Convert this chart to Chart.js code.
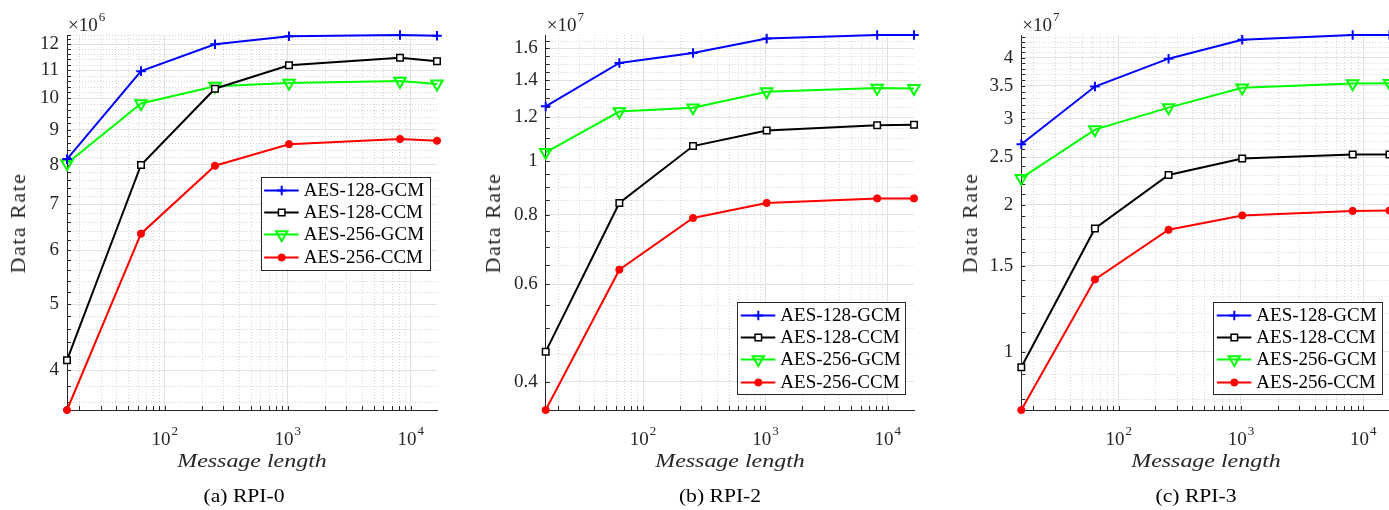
<!DOCTYPE html>
<html><head><meta charset="utf-8">
<script src="https://cdn.jsdelivr.net/npm/chart.js@4.4.1/dist/chart.umd.min.js"></script>
<style>
html,body{margin:0;padding:0;background:#fff;overflow:hidden;width:1389px;height:510px;position:relative;}
.panel{position:absolute;top:0;height:510px;}
canvas{display:block;}
.txt{position:absolute;white-space:nowrap;font-family:'Liberation Serif','Times New Roman',serif;color:#262626;line-height:1;}
.xt{font-style:italic;font-size:19px;transform:translateX(-50%) scaleX(1.26);}
.yt{font-size:22px;letter-spacing:1.5px;transform:translate(-50%,-50%) rotate(-90deg);}
.cap{font-size:18px;color:#000;transform:translateX(-50%) scaleX(1.2);}
</style></head>
<body>
<div class="panel" style="left:0px;width:460px"><canvas id="ca" width="460" height="510" style="width:460px;height:510px"></canvas></div>
<div class="panel" style="left:460px;width:470px"><canvas id="cb" width="470" height="510" style="width:470px;height:510px"></canvas></div>
<div class="panel" style="left:930px;width:470px"><canvas id="cc" width="470" height="510" style="width:470px;height:510px"></canvas></div>

<div class="txt yt" style="left:18px;top:222.5px">Data Rate</div>
<div class="txt yt" style="left:492.5px;top:222.5px">Data Rate</div>
<div class="txt yt" style="left:969.5px;top:222.5px">Data Rate</div>
<div class="txt xt" style="left:252px;top:451px">Message length</div>
<div class="txt xt" style="left:730px;top:451px">Message length</div>
<div class="txt xt" style="left:1206px;top:451px">Message length</div>
<div class="txt cap" style="left:244px;top:487px">(a) RPI-0</div>
<div class="txt cap" style="left:720px;top:487px">(b) RPI-2</div>
<div class="txt cap" style="left:1196px;top:487px">(c) RPI-3</div>

<script>
// ---------------- data ----------------
const messageLengths = [16, 64, 256, 1024, 8192, 16384];
const seriesNames = ['AES-128-GCM', 'AES-128-CCM', 'AES-256-GCM', 'AES-256-CCM'];

// RPI-0 (x10^6)
const rpi0Exponent = 6;
const rpi0Gcm128 = [8.15, 10.96, 12.0, 12.33, 12.38, 12.35];
const rpi0Ccm128 = [4.14, 7.99, 10.33, 11.18, 11.47, 11.33];
const rpi0Gcm256 = [8.03, 9.83, 10.42, 10.53, 10.6, 10.5];
const rpi0Ccm256 = [3.5, 6.34, 7.97, 8.57, 8.72, 8.67];
const rpi0YTicks = [4, 5, 6, 7, 8, 9, 10, 11, 12];

// RPI-2 (x10^7)
const rpi2Exponent = 7;
const rpi2Gcm128 = [1.256, 1.504, 1.567, 1.664, 1.689, 1.689];
const rpi2Ccm128 = [0.4536, 0.841, 1.065, 1.136, 1.161, 1.164];
const rpi2Gcm256 = [1.038, 1.229, 1.249, 1.335, 1.355, 1.353];
const rpi2Ccm256 = [0.356, 0.6375, 0.790, 0.841, 0.857, 0.857];
const rpi2YTicks = [0.4, 0.6, 0.8, 1, 1.2, 1.4, 1.6];

// RPI-3 (x10^7)
const rpi3Exponent = 7;
const rpi3Gcm128 = [2.66, 3.49, 3.98, 4.35, 4.45, 4.45];
const rpi3Ccm128 = [0.93, 1.788, 2.30, 2.486, 2.533, 2.533];
const rpi3Gcm256 = [2.266, 2.85, 3.16, 3.47, 3.54, 3.545];
const rpi3Ccm256 = [0.76, 1.406, 1.777, 1.901, 1.942, 1.945];
const rpi3YTicks = [1, 1.5, 2, 2.5, 3, 3.5, 4];

const xMajorTicks = [100, 1000, 10000];
const xMajorExponents = ['2', '3', '4'];

// ---------------- styling ----------------
const FONT = "'Liberation Serif','Times New Roman',serif";
const AXIS = '#262626';
const MAJOR_GRID = '#e1e1e1';
const MINOR_GRID = '#d4d4d4';

const seriesStyles = [
  {color: '#0000ff', pointStyle: 'cross', radius: 4.8, bg: '#0000ff', bw: 2, rot: 0},
  {color: '#000000', pointStyle: 'rect', radius: 4.6, bg: '#ffffff', bw: 1.5, rot: 0},
  {color: '#00ff00', pointStyle: 'triangle', radius: 6.6, bg: 'rgba(0,0,0,0)', bw: 2, rot: 180},
  {color: '#ff0000', pointStyle: 'circle', radius: 3.6, bg: '#ff0000', bw: 1, rot: 0}
];

function minorTicks(lo, hi, step, majors) {
  const out = [];
  const n = Math.round((hi - lo) / step);
  for (let i = 0; i <= n; i++) {
    const v = Math.round((lo + i * step) * 1000) / 1000;
    if (!majors.some(m => Math.abs(m - v) < 1e-9)) out.push(v);
  }
  return out;
}
function xMinorTicks() {
  const out = [];
  [10, 100, 1000].forEach(d => { for (let k = 2; k <= 9; k++) out.push(k * d); });
  return out;
}

function makeDeco(cfg) {
  return {
    id: 'deco',
    beforeDatasetsDraw(chart) {
      const {ctx, chartArea: a, scales: {x, y}} = chart;
      ctx.save();
      ctx.lineWidth = 1;
      ctx.strokeStyle = MINOR_GRID;
      ctx.setLineDash([1, 2]);
      cfg.xMinor.forEach(v => {
        const px = Math.round(x.getPixelForValue(v)) + 0.5;
        if (px < a.left || px > a.right) return;
        ctx.beginPath(); ctx.moveTo(px, a.top); ctx.lineTo(px, a.bottom); ctx.stroke();
      });
      cfg.yMinor.forEach(v => {
        const py = Math.round(y.getPixelForValue(v)) + 0.5;
        if (py < a.top || py > a.bottom) return;
        ctx.beginPath(); ctx.moveTo(a.left, py); ctx.lineTo(a.right, py); ctx.stroke();
      });
      ctx.setLineDash([]);
      ctx.strokeStyle = AXIS;
      const tl = 4;
      xMajorTicks.concat(cfg.xMinor).forEach(v => {
        const px = Math.round(x.getPixelForValue(v)) + 0.5;
        if (px < a.left || px > a.right) return;
        ctx.beginPath(); ctx.moveTo(px, a.bottom); ctx.lineTo(px, a.bottom - tl); ctx.stroke();
      });
      cfg.yMajor.concat(cfg.yMinor).forEach(v => {
        const py = Math.round(y.getPixelForValue(v)) + 0.5;
        if (py < a.top || py > a.bottom) return;
        ctx.beginPath(); ctx.moveTo(a.left, py); ctx.lineTo(a.left + tl, py); ctx.stroke();
      });
      ctx.restore();
    },
    afterDraw(chart) {
      const {ctx, chartArea: a, scales: {x}} = chart;
      ctx.save();
      // x tick labels 10^n
      ctx.fillStyle = AXIS;
      ctx.textBaseline = 'alphabetic';
      ctx.textAlign = 'left';
      xMajorTicks.forEach((v, i) => {
        const px = x.getPixelForValue(v);
        ctx.font = `19px ${FONT}`;
        const w1 = ctx.measureText('10').width;
        ctx.font = `13px ${FONT}`;
        const w2 = ctx.measureText(xMajorExponents[i]).width;
        const sx = px - (w1 + w2 + 1) / 2;
        ctx.font = `19px ${FONT}`;
        ctx.fillText('10', sx, 445);
        ctx.font = `13px ${FONT}`;
        ctx.fillText(xMajorExponents[i], sx + w1 + 1, 435);
      });
      // exponent label
      ctx.font = `19px ${FONT}`;
      const base = '\u00d710';
      ctx.fillText(base, a.left + 1, 31);
      const wb = ctx.measureText(base).width;
      ctx.font = `13px ${FONT}`;
      ctx.fillText(String(cfg.exponent), a.left + 2 + wb, 21);
      // legend
      const L = cfg.legend;
      ctx.fillStyle = '#ffffff';
      ctx.fillRect(L.x, L.y, L.w, L.h);
      ctx.strokeStyle = AXIS;
      ctx.lineWidth = 1;
      ctx.strokeRect(Math.round(L.x) + 0.5, Math.round(L.y) + 0.5, Math.round(L.w), Math.round(L.h));
      chart.data.datasets.forEach((ds, i) => {
        const st = seriesStyles[i];
        const cy = Math.round(L.y + 13 + 22.3 * i) + 0.5;
        ctx.strokeStyle = st.color;
        ctx.lineWidth = 2;
        ctx.beginPath(); ctx.moveTo(L.x + 3.5, cy); ctx.lineTo(L.x + 38, cy); ctx.stroke();
        ctx.fillStyle = st.bg;
        ctx.strokeStyle = st.color;
        ctx.lineWidth = st.bw;
        Chart.helpers.drawPoint(ctx, {pointStyle: st.pointStyle, rotation: st.rot, radius: st.radius, borderWidth: st.bw}, L.x + 21, cy);
        ctx.fillStyle = '#000000';
        ctx.font = `19px ${FONT}`;
        ctx.textBaseline = 'middle';
        ctx.fillText(ds.label, L.x + 43, cy + 1);
      });
      ctx.restore();
    }
  };
}

function buildChart(canvasId, series, yTicks, yMin, yMax, minorStep, exponent, geom, legend) {
  const yMinor = minorTicks(Math.ceil(yMin / minorStep) * minorStep, yMax, minorStep, yTicks);
  const cfg = {xMinor: xMinorTicks(), yMinor, yMajor: yTicks, exponent, legend};
  const datasets = series.map((vals, i) => {
    const st = seriesStyles[i];
    return {
      label: seriesNames[i],
      data: messageLengths.map((m, j) => ({x: m, y: vals[j]})),
      borderColor: st.color,
      backgroundColor: st.color,
      borderWidth: 2,
      pointStyle: st.pointStyle,
      pointRadius: st.radius,
      pointRotation: st.rot,
      pointBackgroundColor: st.bg,
      pointBorderColor: st.color,
      pointBorderWidth: st.bw,
      tension: 0,
      clip: false
    };
  });
  return new Chart(document.getElementById(canvasId), {
    type: 'line',
    data: {datasets},
    options: {
      responsive: false,
      animation: false,
      devicePixelRatio: 1,
      layout: {padding: {left: 0, right: geom.padRight, top: 35, bottom: 0}},
      plugins: {legend: {display: false}, tooltip: {enabled: false}, title: {display: false}},
      scales: {
        x: {
          type: 'logarithmic',
          min: 16, max: 16384,
          afterBuildTicks: s => { s.ticks = xMajorTicks.map(v => ({value: v})); },
          afterFit: s => { s.height = 100; },
          ticks: {display: false, autoSkip: false},
          grid: {color: MAJOR_GRID, lineWidth: 1, drawTicks: false},
          border: {display: true, color: AXIS, width: 1}
        },
        y: {
          type: 'logarithmic',
          min: yMin, max: yMax,
          afterBuildTicks: s => { s.ticks = yTicks.map(v => ({value: v})); },
          afterFit: s => { s.width = geom.yWidth; },
          ticks: {
            autoSkip: false,
            padding: 8,
            color: AXIS,
            font: {family: FONT, size: 19},
            callback: v => String(v)
          },
          grid: {color: MAJOR_GRID, lineWidth: 1, drawTicks: false},
          border: {display: true, color: AXIS, width: 1}
        }
      }
    },
    plugins: [makeDeco(cfg)]
  });
}

buildChart('ca', [rpi0Gcm128, rpi0Ccm128, rpi0Gcm256, rpi0Ccm256], rpi0YTicks, 3.5, 12.38, 0.2, rpi0Exponent,
  {yWidth: 67, padRight: 23}, {x: 260.7, y: 176.7, w: 169.3, h: 92.6});
buildChart('cb', [rpi2Gcm128, rpi2Ccm128, rpi2Gcm256, rpi2Ccm256], rpi2YTicks, 0.356, 1.689, 0.05, rpi2Exponent,
  {yWidth: 85.7, padRight: 16}, {x: 277.3, y: 301.7, w: 168.4, h: 92.3});
buildChart('cc', [rpi3Gcm128, rpi3Ccm128, rpi3Gcm256, rpi3Ccm256], rpi3YTicks, 0.76, 4.45, 0.1, rpi3Exponent,
  {yWidth: 91.3, padRight: 10.5}, {x: 283.3, y: 301.7, w: 168.7, h: 92.3});
</script>
</body></html>
